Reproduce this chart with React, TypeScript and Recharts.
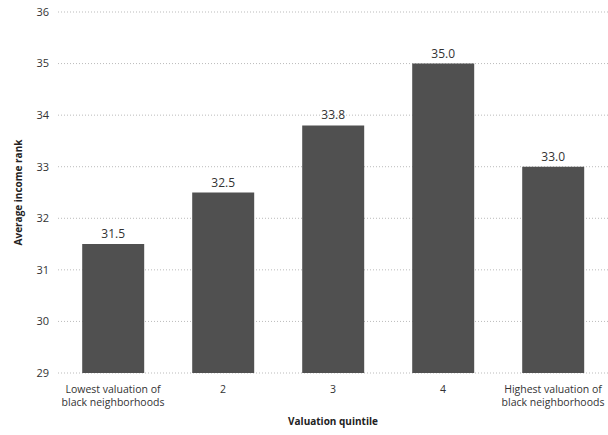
import React from "react"
import { BarChart, Bar, XAxis, YAxis, CartesianGrid, LabelList } from "recharts"

// Valuation quintiles and their average income rank
const quintiles = [
  "Lowest valuation of\nblack neighborhoods",
  "2",
  "3",
  "4",
  "Highest valuation of\nblack neighborhoods",
]
const incomeRank = [31.5, 32.5, 33.8, 35.0, 33.0]
const rankTicks = [29, 30, 31, 32, 33, 34, 35, 36]

const data = quintiles.map((q, i) => ({ name: q, value: incomeRank[i] }))

const FONT = "'Open Sans', 'DejaVu Sans', sans-serif"

const MultiLineTick = ({ x, y, payload }: any) => {
  const lines = String(payload.value).split("\n")
  return (
    <text x={x} y={y} textAnchor="middle" fill="#333" fontSize={10.5} fontFamily={FONT}>
      {lines.map((line, i) => (
        <tspan key={i} x={x} dy={i === 0 ? 12 : 13}>
          {line}
        </tspan>
      ))}
    </text>
  )
}

export default function App() {
  return (
    <div style={{ position: "absolute", left: 0, top: 0, width: 608, height: 435, background: "#fff" }}>
      <BarChart
        width={608}
        height={435}
        data={data}
        margin={{ top: 12, right: 0, left: 0, bottom: 0 }}
        barCategoryGap="22%"
      >
        <CartesianGrid vertical={false} stroke="#bbb" strokeDasharray="1 2" />
        <XAxis
          dataKey="name"
          axisLine={false}
          tickLine={false}
          interval={0}
          height={62}
          tick={<MultiLineTick />}
          label={{
            value: "Valuation quintile",
            position: "insideBottom",
            offset: 10,
            fontSize: 10,
            fontWeight: "bold",
            fill: "#222",
            fontFamily: FONT,
          }}
        />
        <YAxis
          width={58}
          domain={[29, 36]}
          ticks={rankTicks}
          axisLine={false}
          tickLine={false}
          tickSize={0}
          tickMargin={9}
          tick={{ fontSize: 11, fill: "#333", fontFamily: FONT }}
          label={{
            value: "Average income rank",
            angle: -90,
            position: "insideLeft",
            offset: 18,
            style: { textAnchor: "middle" },
            fontSize: 10,
            fontWeight: "bold",
            fill: "#222",
            fontFamily: FONT,
          }}
        />
        <Bar dataKey="value" fill="#505050" isAnimationActive={false}>
          <LabelList
            dataKey="value"
            position="top"
            offset={6}
            formatter={(v: any) => Number(v).toFixed(1)}
            style={{ fontSize: 12, fill: "#333", fontFamily: FONT }}
          />
        </Bar>
      </BarChart>
    </div>
  )
}
